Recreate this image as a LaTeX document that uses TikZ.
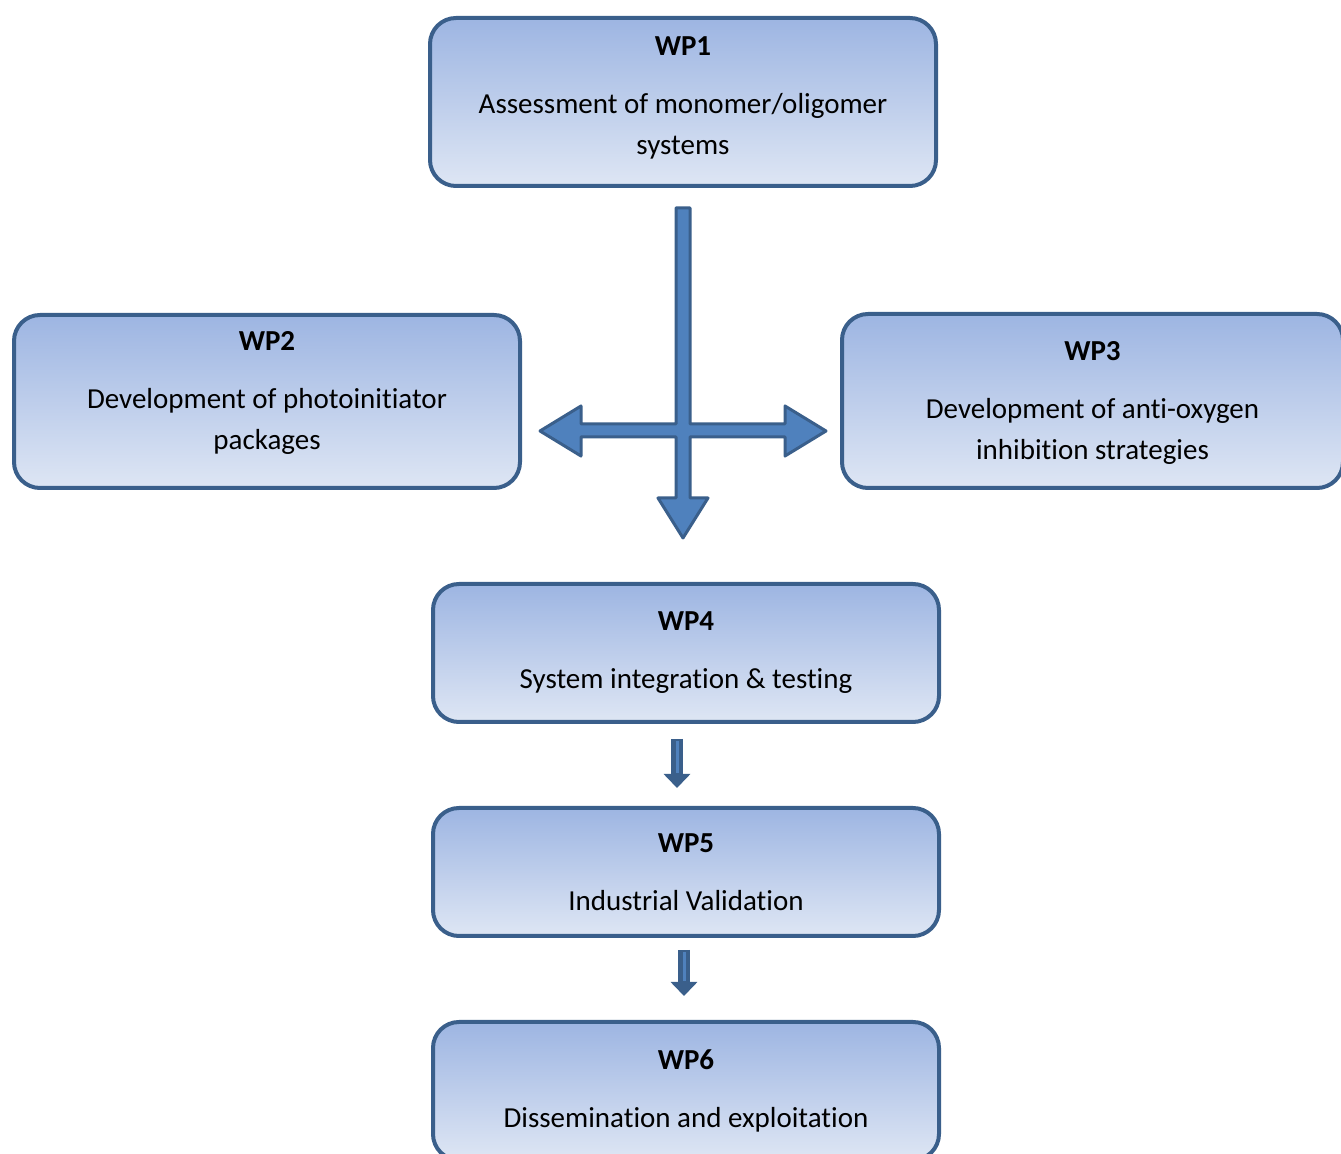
\documentclass[tikz,border=0pt]{standalone}
\usepackage{fontspec}
\setmainfont{Carlito}[RawFeature={-liga;-clig;-calt}]
\usetikzlibrary{arrows.meta}
\definecolor{wpline}{RGB}{58,95,139}
\definecolor{wptop}{RGB}{157,181,226}
\definecolor{wpbottom}{RGB}{222,230,244}
\definecolor{arrowfill}{RGB}{79,129,189}
\tikzstyle{wpbox} = [rectangle, rounded corners=13pt, minimum width=253pt, text centered, align=center, draw=wpline, line width=2pt, top color=wptop, bottom color=wpbottom, font=\fontsize{14.5}{20.5}\selectfont, inner sep=0pt]
\tikzstyle{blockarrow} = [line width=6pt, draw=wpline, -{Triangle[width=13pt,length=7pt]}]
\tikzstyle{shine} = [line width=1.5pt, draw=arrowfill]
\tikzstyle{crossarrow} = [fill=arrowfill, draw=wpline, line width=1.5pt, line join=round]

\begin{document}
\begin{tikzpicture}[x=0.5pt, y=-0.5pt, node distance=109.5pt]
\path[use as bounding box] (0,0) rectangle (1341,1154);
\clip (0,0) rectangle (1341,1154);

\node(wp1) [wpbox, minimum height=84pt, text depth=6pt] at (683,102) {\textbf{WP1}\\[8.5pt] Assessment of monomer/oligomer\\ systems};
\node(wp2) [wpbox, minimum height=86.5pt, text depth=11pt] at (267,401.5) {\textbf{WP2}\\[8.5pt] Development of photoinitiator\\ packages};
\node(wp3) [wpbox, minimum width=250.5pt, minimum height=87pt, text depth=0.5pt] at (1092.5,401) {\textbf{WP3}\\[8.5pt] Development of anti-oxygen\\ inhibition strategies};
\node(wp4) [wpbox, minimum height=69pt] at (686,653) {\textbf{WP4}\\[8.5pt] System integration \& testing};
\node(wp5) [wpbox, minimum height=64pt, below of = wp4] {\textbf{WP5}\\[8.5pt] Industrial Validation};
\node(wp6) [wpbox, minimum height=69pt, below of = wp5] {\textbf{WP6}\\[8.5pt] Dissemination and exploitation};

\coordinate (hub) at (683,431);
\draw [crossarrow, shift={(hub)}] (-7,-223) -- (7,-223) -- (7,-7) -- (102,-7) -- (102,-25) -- (143,0) -- (102,25) -- (102,6) -- (7,6) -- (7,67) -- (25,67) -- (0,107) -- (-25,67) -- (-7,67) -- (-7,6) -- (-102,6) -- (-102,25) -- (-143,0) -- (-102,-25) -- (-102,-7) -- (-7,-7) -- cycle;

\draw [blockarrow] ([xshift=-4.5pt, yshift=-7.5pt]wp4.south) -- ([xshift=-4.5pt, yshift=9pt]wp5.north);
\draw [shine] ([xshift=-4.5pt, yshift=-8.5pt]wp4.south) -- ([xshift=-4.5pt, yshift=16.5pt]wp5.north);
\draw [blockarrow] ([xshift=-1pt, yshift=-6pt]wp5.south) -- ([xshift=-1pt, yshift=12pt]wp6.north);
\draw [shine] ([xshift=-1pt, yshift=-7pt]wp5.south) -- ([xshift=-1pt, yshift=19.5pt]wp6.north);
\end{tikzpicture}
\end{document}
